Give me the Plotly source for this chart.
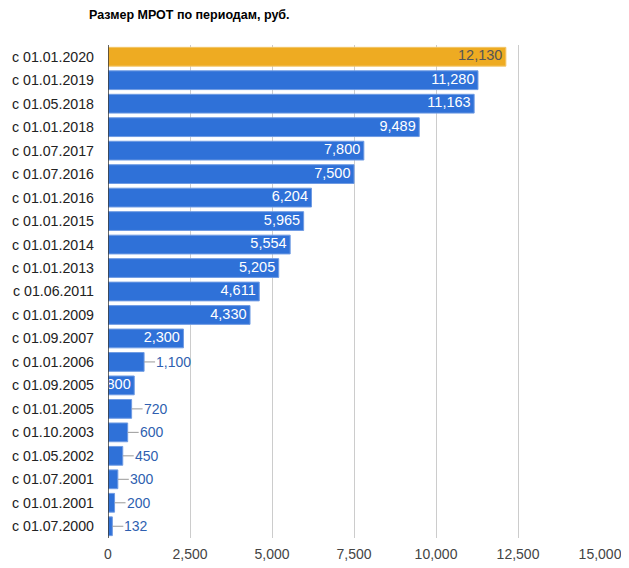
import plotly.graph_objects as go

categories = ["с 01.01.2020", "с 01.01.2019", "с 01.05.2018", "с 01.01.2018", "с 01.07.2017",
              "с 01.07.2016", "с 01.01.2016", "с 01.01.2015", "с 01.01.2014", "с 01.01.2013",
              "с 01.06.2011", "с 01.01.2009", "с 01.09.2007", "с 01.01.2006", "с 01.09.2005",
              "с 01.01.2005", "с 01.10.2003", "с 01.05.2002", "с 01.07.2001", "с 01.01.2001",
              "с 01.07.2000"]
values = [12130, 11280, 11163, 9489, 7800, 7500, 6204, 5965, 5554, 5205,
          4611, 4330, 2300, 1100, 800, 720, 600, 450, 300, 200, 132]
x_ticks = [0, 2500, 5000, 7500, 10000, 12500, 15000]

BLUE = "#2f71d8"
ORANGE = "#eeab22"
FONT = "Arial, Liberation Sans, sans-serif"

colors = [ORANGE] + [BLUE] * (len(values) - 1)
line_colors = ["#f3c66a"] + ["#6f9be3"] * (len(values) - 1)
labels = [f"{v:,}" for v in values]

# page body has an 8px margin, so the figure is 8px smaller than the window
W, H = 621, 560
L, R, T, B = 100, 29, 37, 30
px_per_unit = (W - L - R) / 15000.0
inner_pad_units = 3.5 / px_per_unit

fig = go.Figure()
fig.add_trace(go.Bar(
    x=values, y=categories, orientation="h",
    marker=dict(color=colors, line=dict(color=line_colors, width=1)),
    hoverinfo="x+y", showlegend=False,
))

inside_x, inside_y, inside_t, inside_c = [], [], [], []
for i, (v, c, lab) in enumerate(zip(values, categories, labels)):
    text_w = len(lab) * 7.8
    if v * px_per_unit >= text_w + 2:
        inside_x.append(v - inner_pad_units); inside_y.append(c); inside_t.append(lab)
        inside_c.append("#555555" if i == 0 else "white")
    else:
        fig.add_annotation(
            x=v, y=c, xref="x", yref="y", text=lab, showarrow=True,
            arrowhead=0, arrowwidth=1, arrowcolor="#999999",
            ax=11, ay=0, xanchor="left", borderpad=0,
            font=dict(family=FONT, size=14, color="#2f5fb0"),
        )

fig.add_trace(go.Scatter(
    x=inside_x, y=inside_y, text=inside_t, mode="text",
    textposition="middle left", cliponaxis=True,
    textfont=dict(family=FONT, size=14.5, color=inside_c),
    hoverinfo="skip", showlegend=False,
))

fig.update_layout(
    width=W, height=H,
    margin=dict(l=L, r=R, t=T, b=B, autoexpand=False),
    paper_bgcolor="white", plot_bgcolor="white",
    bargap=0.2,
    title=dict(text="<b>Размер МРОТ по периодам, руб.</b>", x=81 / W, xanchor="left",
               xref="container", yref="container",
               y=1 - 7 / H, yanchor="middle", automargin=False,
               font=dict(family=FONT, size=12.5, color="#000000")),
    xaxis=dict(range=[0, 15000], tickvals=x_ticks, tickformat=",",
               showgrid=True, gridcolor="#cccccc", gridwidth=1,
               zeroline=False, showline=False, automargin=False,
               tickfont=dict(family=FONT, size=14, color="#444444"),
               ticks="", ticklabelstandoff=6, fixedrange=True),
    yaxis=dict(type="category", categoryorder="array", categoryarray=categories,
               range=[len(categories) - 0.5, -0.5],
               showgrid=False, zeroline=False, showline=False, automargin=False,
               tickfont=dict(family=FONT, size=14.2, color="#222222"),
               ticks="", ticklabelstandoff=13),
)
fig.add_shape(type="line", xref="x", yref="paper", x0=0, x1=0, y0=0, y1=1,
              line=dict(color="#333333", width=1.5), layer="above")

fig.write_html("out.html")
